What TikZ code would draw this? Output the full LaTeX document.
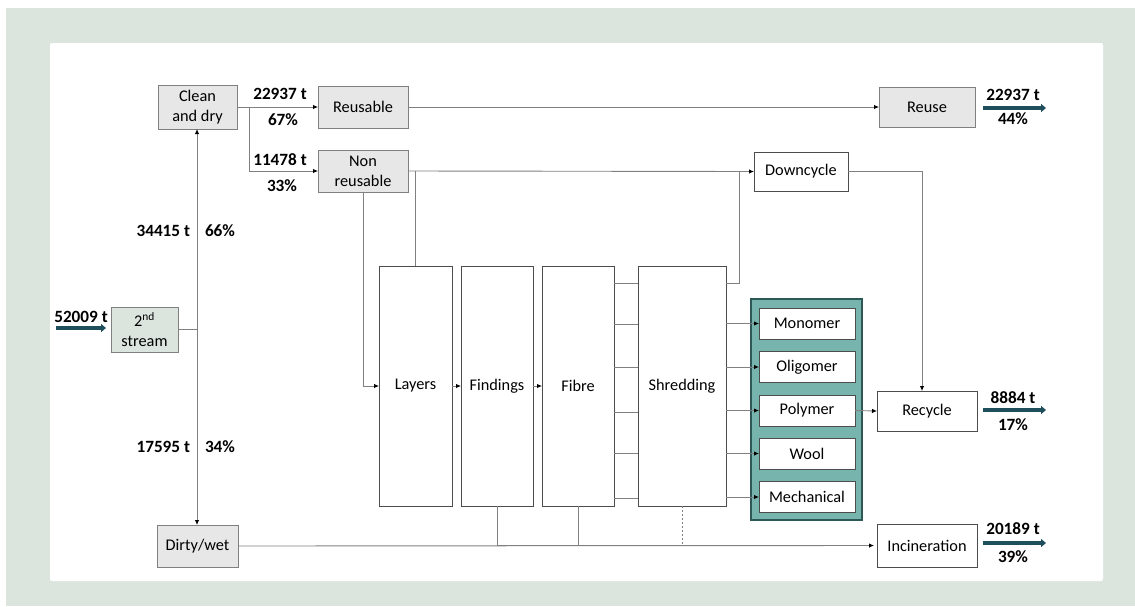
\documentclass[tikz,border=0pt]{standalone}
\usepackage{fontspec}
\setmainfont{Carlito}
\usetikzlibrary{arrows.meta}
\definecolor{sage}{HTML}{DBE5DE}
\definecolor{boxgray}{HTML}{E7E7E7}
\definecolor{tealfill}{HTML}{78B4AE}
\definecolor{tealdark}{HTML}{2C5858}
\definecolor{arrowteal}{HTML}{1F4E5C}
\definecolor{linegray}{HTML}{808080}
\begin{document}
\begin{tikzpicture}[x=1pt,y=-1pt,
  every node/.style={font=\fontsize{16.3}{20}\selectfont, inner sep=0pt, outer sep=0pt},
  graybox/.style={draw=linegray, fill=boxgray, line width=0.9pt, align=center},
  greenbox/.style={draw=linegray, fill=sage, line width=0.9pt, align=center},
  whitebox/.style={draw=black!70, fill=white, line width=0.8pt, align=center},
  conn/.style={draw=linegray, line width=0.9pt},
  arr/.style={conn, -{Latex[length=5pt,width=4.5pt,color=black]}},
  outarr/.style={draw=arrowteal, line width=3.2pt, -{Triangle[length=5pt,width=8pt]}},
  num/.style={font=\bfseries\fontsize{17.2}{20}\selectfont}
]
\fill[white] (0,0) rectangle (1135,606);
\fill[sage] (6,8) rectangle (1135,606);
\fill[white, rounded corners=2pt] (50,43) rectangle (1103,581);
\useasboundingbox (0,0) rectangle (1135,606);

% group box
\node[draw=tealdark, fill=tealfill, line width=1.8pt, minimum width=111pt, minimum height=221pt] (grp) at (806.5,409.5) {};

% nodes
\node[graybox, minimum width=79pt, minimum height=44pt] (clean) at (197.5,107) {Clean\\and dry};
\node[graybox, minimum width=90pt, minimum height=42pt] (reusable) at (363,107) {Reusable};
\node[graybox, minimum width=90pt, minimum height=42pt] (nonreus) at (363,171) {Non\\reusable};
\node[graybox, minimum width=96pt, minimum height=40pt] (reuse) at (927,107) {Reuse};
\node[greenbox, minimum width=67pt, minimum height=45pt] (second) at (144.5,329.5) {2\textsuperscript{nd}\\stream};
\node[graybox, minimum width=81pt, minimum height=42pt] (dirty) at (197.5,546) {Dirty/wet};
\node[whitebox, minimum width=73pt, minimum height=240pt] (layers) at (415.5,386) {Layers};
\node[whitebox, minimum width=72pt, minimum height=240pt] (findings) at (497,386) {Findings};
\node[whitebox, minimum width=72pt, minimum height=240pt] (fibre) at (578,386) {Fibre};
\node[whitebox, minimum width=88pt, minimum height=240pt] (shred) at (682,386) {Shredding};
\node[whitebox, minimum width=94pt, minimum height=39pt] (down) at (801,171.5) {Downcycle};
\node[whitebox, minimum width=96pt, minimum height=31pt] (mono) at (807,323.5) {Monomer};
\node[whitebox, minimum width=96pt, minimum height=31pt] (oligo) at (807,367) {Oligomer};
\node[whitebox, minimum width=96pt, minimum height=31pt] (poly) at (807,410.5) {Polymer};
\node[whitebox, minimum width=96pt, minimum height=31pt] (wool) at (807,453.5) {Wool};
\node[whitebox, minimum width=96pt, minimum height=31pt] (mech) at (807,497) {Mechanical};
\node[whitebox, minimum width=100pt, minimum height=40pt] (recycle) at (927,411) {Recycle};
\node[whitebox, minimum width=100pt, minimum height=43pt] (incin) at (927,545.5) {Incineration};

% coordinates
\coordinate (split) at (197,329.5);
\coordinate (cbr) at (249,107);
\coordinate (jl) at (415.5,171);
\coordinate (js) at (739,171);
\coordinate (bl) at (682,545);
\coordinate (in0) at (56,328);
\coordinate (o1a) at (983,108); \coordinate (o1b) at (1046,108);
\coordinate (o2a) at (983,410); \coordinate (o2b) at (1046,410);
\coordinate (o3a) at (983,543); \coordinate (o3b) at (1046,543);

% connectors
\draw[conn] (second.east) -- (split);
\draw[arr] (split) -- (clean.south -| split);
\draw[arr] (split) -- (dirty.north -| split);
\draw[arr] (clean.east) -- (reusable.west);
\draw[arr] (cbr) |- (nonreus.west);
\draw[arr] (reusable.east) -- (reuse.west);
\draw[arr] (nonreus.east) -- (down.west);
\draw[conn] (layers.north) -- (jl);
\draw[conn] (shred.east |- 0,283) -| (js);
\draw[arr] (nonreus.south) |- (layers.west);
\draw[arr] (layers.east) -- (findings.west);
\draw[arr] (findings.east) -- (fibre.west);
\foreach \yy in {283,324,367,412,453,498}
  \draw[conn] (fibre.east |- 0,\yy) -- (shred.west |- 0,\yy);
\draw[arr] (shred.east |- mono.west) -- (mono.west);
\draw[arr] (shred.east |- oligo.west) -- (oligo.west);
\draw[arr] (shred.east |- poly.west) -- (poly.west);
\draw[arr] (shred.east |- wool.west) -- (wool.west);
\draw[arr] (shred.east |- mech.west) -- (mech.west);
\draw[arr] (poly.east) -- (recycle.west);
\draw[arr] (down.east) -| ([xshift=-5pt]recycle.north);
\draw[arr] (dirty.east) -- ([xshift=-3pt]incin.west);
\draw[conn] (findings.south) |- (bl);
\draw[conn] (fibre.south) -- (fibre.south |- bl);
\draw[conn, dash pattern=on 2pt off 2pt] (shred.south) -- (bl);

% input / output arrows
\draw[outarr] (in0) -- ([xshift=-5pt]second.west |- in0);
\draw[outarr] (o1a) -- (o1b);
\draw[outarr] (o2a) -- (o2b);
\draw[outarr] (o3a) -- (o3b);

% labels
\node[num] (lin) at (81,317) {52009 t};
\node[num] (l1) at (280,94) {22937 t};
\node[num] (l2) at (283,120) {67\%};
\node[num] (l3) at (280,160) {11478 t};
\node[num] (l4) at (282,186) {33\%};
\node[num, anchor=east] (l5) at (190,231) {34415 t};
\node[num, anchor=west] (l6) at (205,231) {66\%};
\node[num, anchor=east] (l7) at (190,447) {17595 t};
\node[num, anchor=west] (l8) at (205,447) {34\%};
\node[num] (r1) at (1013,95) {22937 t};
\node[num] (r2) at (1013,119) {44\%};
\node[num] (r3) at (1013,398) {8884 t};
\node[num] (r4) at (1013,425) {17\%};
\node[num] (r5) at (1013,529) {20189 t};
\node[num] (r6) at (1013,557) {39\%};
\end{tikzpicture}
\end{document}
